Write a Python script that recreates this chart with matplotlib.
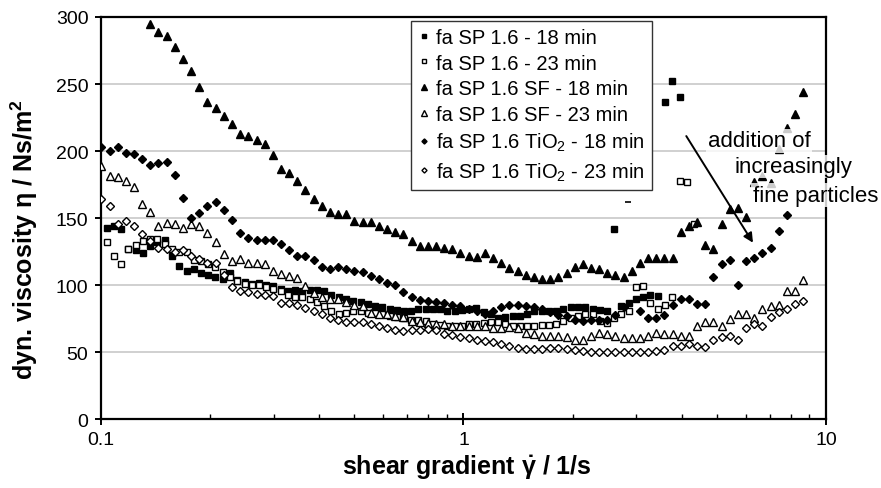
import numpy as np
import matplotlib
matplotlib.use('Agg')
import matplotlib.pyplot as plt
from matplotlib.ticker import FixedLocator, FixedFormatter, LogLocator, NullFormatter

plt.rcParams['font.family'] = ['Liberation Sans', 'DejaVu Sans']
plt.rcParams['mathtext.fontset'] = 'custom'
plt.rcParams['mathtext.rm'] = 'Liberation Sans'
plt.rcParams['mathtext.it'] = 'Liberation Sans:italic'
plt.rcParams['mathtext.bf'] = 'Liberation Sans:bold'
plt.rcParams['mathtext.default'] = 'regular'

# shear rates in 1/s -- SF and TiO2 runs were logged on one grid, plain SP runs on another
shear_a = [0.1003, 0.1056, 0.1112, 0.1172, 0.1234, 0.1300, 0.1369, 0.1441, 0.1518, 0.1599,
           0.1684, 0.1773, 0.1868, 0.1967, 0.2072, 0.2183, 0.2299, 0.2421, 0.2550, 0.2686,
           0.2829, 0.2979, 0.3138, 0.3304, 0.3480, 0.3666, 0.3861, 0.4066, 0.4282, 0.4510,
           0.4750, 0.5003, 0.5269, 0.5549, 0.5845, 0.6156, 0.6483, 0.6828, 0.7192, 0.7574,
           0.7977, 0.8401, 0.8848, 0.9318, 0.9813, 1.034, 1.088, 1.146, 1.207, 1.271,
           1.339, 1.410, 1.485, 1.564, 1.648, 1.735, 1.828, 1.925, 2.027, 2.135,
           2.249, 2.368, 2.495, 2.627, 2.767, 2.914, 3.069, 3.232, 3.404, 3.585,
           3.776, 3.977, 4.189, 4.411, 4.646, 4.893, 5.154, 5.428, 5.717, 6.021,
           6.343, 6.680, 7.035, 7.409, 7.803, 8.218, 8.655]
shear_b = [0.1038, 0.1086, 0.1138, 0.1191, 0.1247, 0.1306, 0.1368, 0.1432, 0.1500, 0.1570,
           0.1644, 0.1722, 0.1803, 0.1888, 0.1977, 0.2070, 0.2168, 0.2270, 0.2377, 0.2489,
           0.2606, 0.2729, 0.2858, 0.2992, 0.3133, 0.3281, 0.3436, 0.3597, 0.3767, 0.3945,
           0.4130, 0.4325, 0.4529, 0.4742, 0.4966, 0.5200, 0.5445, 0.5702, 0.5970, 0.6252,
           0.6546, 0.6855, 0.7178, 0.7516, 0.7870, 0.8241, 0.8630, 0.9036, 0.9462, 0.9908,
           1.038, 1.086, 1.138, 1.191, 1.247, 1.306, 1.368, 1.432, 1.500, 1.570,
           1.644, 1.722, 1.803, 1.888, 1.977, 2.070, 2.168, 2.270, 2.377, 2.489,
           2.606, 2.729, 2.858, 2.992, 3.133, 3.281, 3.436, 3.598, 3.767, 3.945,
           4.130, 4.325]

# viscosity in Ns/m2
sp_18 = [143, 144, 142, 127, 126, 124, 129, 132, 133.5, 122,
         114.5, 110.5, 112, 109.5, 108, 106, 104.5, 109, 104, 102.5,
         101, 102, 100, 99.5, 97.5, 96, 96.5, 95.5, 96.5, 96.5,
         95.5, 93, 91, 90, 88.5, 87.5, 86, 84.5, 83.5, 82.5,
         81.5, 81, 81, 82, 82.5, 82.5, 82, 81, 81, 81.5,
         82, 83, 80, 78.5, 76, 76.5, 77, 77.5, 79, 80.5,
         81, 81, 81, 82.5, 83.5, 84, 83.5, 82.5, 81.5, 81,
         142, 84.5, 87, 89.5, 91, 92.5, 92, 237, 252, 240]
sp_23 = [132.5, 121.5, 116, 127, 130, 133, 134.5, 134.5, 131, 127,
         125, 125, 119, 118.5, 116, 114, 110, 106, 103.5, 101,
         100, 100, 99, 97, 95.5, 93, 91.5, 91, 89.5, 87.5,
         84.5, 81, 78.5, 79.5, 80.5, 80.5, 79.5, 79.5, 79, 77.5,
         76.5, 75.5, 74.5, 74, 73.5, 71, 70.5, 69.5, 69.5, 70,
         71, 71.5, 72, 72.5, 72.5, 71, 69.5, 69.5, 70, 70,
         70.5, 70.5, 71, 73.5, 76, 77, 79, 78.5, 73.5, 72,
         76, 79, 80.5, 98.5, 99.5, 87, 82.5, 85, 91.5, 178,
         177, 146]
sf_18 = [None, None, None, None, None, None,
         295, 289, 286, 278, 269, 260, 248, 237, 232, 226,
         220, 213, 211, 208, 205, 197, 187, 184, 178, 171,
         164, 159, 155, 153, 153.5, 148, 147, 147, 144.5, 142,
         140, 138, 133, 129, 129, 129, 128, 127, 124, 122,
         121, 124, 120, 117, 113, 111, 108, 106, 105, 104.5,
         106, 109, 114, 116, 113, 112, 109, 108, 106, 111,
         117, 120, 120, 120, 120.5, 140, 144, 147, 130, 127,
         145.5, 157, 157.5, 151, 177, 181.5, 176.5, 201.5, 217, 228, 244]
sf_23 = [189, 181.5, 180.5, 178, 173, 160.5, 154.5, 144.5, 146.5, 146,
         143, 145.5, 144, 139, 132.5, 123, 118, 119.5, 117, 116.5,
         116, 110.5, 108.5, 107, 105.5, 99.5, 94, 91.5, 90, 90,
         87.5, 85, 84.5, 79.5, 79, 79, 77, 76.5, 73.5, 72.5,
         72, 71.5, 71, 70, 69.5, 69.5, 70, 69.5, 68.5, 68.5,
         69, 68.5, 64.5, 63.5, 62.5, 62, 62, 61.5, 59.5, 59.5,
         62, 64.5, 63.5, 62, 61, 61, 61, 62.5, 64.5, 63.5,
         63.5, 62.5, 62.5, 70, 73, 73, 69.5, 75, 79, 79,
         75.5, 82, 84.5, 85, 95.5, 95.5, 104]
tio2_18 = [203, 200, 203, 199, 198, 194, 190, 191, 192, 182,
           165, 150, 154, 159, 162, 156, 149, 139, 135, 134,
           134, 134, 131, 126, 122, 122, 119, 114, 112, 114,
           112, 111, 110, 107, 105, 102, 100, 95, 91, 89,
           88, 87.5, 87, 85.5, 84.5, 82, 81, 79, 81, 84,
           85.5, 85, 84.5, 84, 82, 80, 78, 77.5, 74, 73.5,
           74, 74.5, 74.5, 78, 84, None, 81, 76, 76, 78,
           85.5, 90, 90, 86, 86, 106.5, 116, 119, 100, 118,
           120.5, 124, 128, 140.5, 152.5]
tio2_23 = [164.5, 159, 145.5, 148, 144.5, 138, 133, 128, 127, 125,
           126, 122, 119.5, 117, 117, 107.5, 98.5, 95.5, 95, 93.5,
           92.5, 92, 87, 86.5, 85, 83, 81, 79, 76, 74,
           73, 73, 73, 71.5, 70, 68.5, 67, 66, 67, 67,
           67.5, 66.5, 64, 63, 61.5, 60.5, 59.5, 58.5, 57.5, 56,
           54.5, 53.5, 52.5, 52.5, 52.5, 53.5, 53.5, 52.5, 51.5, 51,
           50.5, 50, 50, 50, 50, 50.5, 50, 50.5, 51, 51.5,
           54.5, 55, 56, 54.5, 54, 59.5, 61.5, 62, 59.5, 68.5,
           71, 70, 76.5, 80, 82.5, 86, 88.5]

# lone dash mark above the SP 1.6 - 18 min outlier
dash_x = [2.84]
dash_y = [162]

labels = ['fa SP 1.6 - 18 min', 'fa SP 1.6 - 23 min',
          'fa SP 1.6 SF - 18 min', 'fa SP 1.6 SF - 23 min',
          'fa SP 1.6 TiO$_2$ - 18 min', 'fa SP 1.6 TiO$_2$ - 23 min']

arrow_start = (4.08, 213)
arrow_end = (6.35, 130)

fig = plt.figure(figsize=(8.81, 4.89), dpi=100)
ax = fig.add_axes([0.1146, 0.1401, 0.8229, 0.8231])

runs = [(shear_b, sp_18, 's', 'k', 4.7),
        (shear_b, sp_23, 's', 'w', 4.7),
        (shear_a, sf_18, '^', 'k', 5.6),
        (shear_a, sf_23, '^', 'w', 5.6),
        (shear_a, tio2_18, 'D', 'k', 4.0),
        (shear_a, tio2_23, 'D', 'w', 4.0)]
for (x, y, m, fc, ms), lab in zip(runs, labels):
    yy = np.array(y, dtype=float)
    ax.plot(x[:len(yy)], yy, linestyle='none', marker=m, ms=ms,
            mfc=fc, mec='k', mew=1.0, label=lab, zorder=3)
ax.plot(dash_x, dash_y, linestyle='none', marker='_', ms=5, mec='k', mew=1.2, zorder=3)

ax.set_xscale('log')
ax.set_xlim(0.1, 10)
ax.set_ylim(0, 300)
ax.set_yticks(np.arange(0, 301, 50))
ax.xaxis.set_major_locator(FixedLocator([0.1, 1, 10]))
ax.xaxis.set_major_formatter(FixedFormatter(['0.1', '1', '10']))
ax.xaxis.set_minor_locator(LogLocator(base=10, subs=np.arange(2, 10)))
ax.xaxis.set_minor_formatter(NullFormatter())

ax.grid(axis='y', color='#c8c8c8', lw=1.2)
ax.set_axisbelow(True)
for s in ax.spines.values():
    s.set_linewidth(1.6)
    s.set_color('k')

ax.tick_params(axis='x', which='major', direction='inout', length=9, width=1.4, labelsize=14, pad=4)
ax.tick_params(axis='x', which='minor', direction='in', length=3.5, width=1.0)
ax.tick_params(axis='y', which='major', direction='out', length=4, width=1.4, labelsize=14, pad=5)

ax.set_xlabel('shear gradient $\\dot{\\gamma}$ / 1/s', fontsize=18, fontweight='bold')
ax.set_ylabel('dyn. viscosity \u03b7 / Ns/m$^2$', fontsize=18, fontweight='bold')
ax.xaxis.set_label_coords(0.505, -0.118)
ax.yaxis.set_label_coords(-0.106, 0.45)
ax.yaxis.label.set_va('center')
ax.xaxis.label.set_va('center')

leg = ax.legend(loc='upper left', bbox_to_anchor=(0.4276, 0.991), borderaxespad=0,
                fontsize=14.5, markerscale=0.65, handlelength=0.6, handletextpad=0.3,
                borderpad=0.35, labelspacing=0.34, fancybox=False, framealpha=1,
                edgecolor='#333333')
leg.get_frame().set_linewidth(1.0)

box = dict(facecolor='white', edgecolor='none', alpha=0.8, pad=1)
ax.text(0.837, 0.679, 'addition of', transform=ax.transAxes, fontsize=16,
        va='baseline', ha='left', bbox=box, zorder=6)
ax.text(0.8745, 0.615, 'increasingly', transform=ax.transAxes, fontsize=16,
        va='baseline', ha='left', bbox=box, zorder=6)
ax.text(0.899, 0.5436, 'fine particles', transform=ax.transAxes, fontsize=16,
        va='baseline', ha='left', bbox=box, zorder=6)
ax.annotate('', xy=arrow_end, xytext=arrow_start,
            arrowprops=dict(arrowstyle='-|>', color='k', lw=1.4, mutation_scale=14),
            zorder=7)

fig.savefig('out.png', dpi=100)
